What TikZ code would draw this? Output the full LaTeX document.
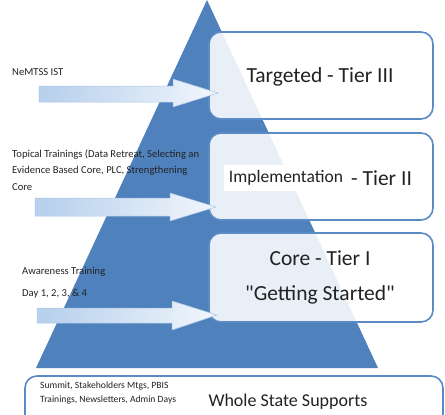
\documentclass[tikz,border=0pt]{standalone}
\usepackage{fontspec}
\setmainfont{Carlito}[Ligatures=TeXOff]
\definecolor{triblue}{HTML}{4F81BD}
\definecolor{boxedge}{HTML}{5B8BC7}
\definecolor{arrL}{HTML}{B9D1ED}
\definecolor{arrR}{HTML}{EEF4FB}
\definecolor{arrEdge}{HTML}{A9C5E6}
\definecolor{txt}{HTML}{222222}
\begin{document}
\begin{tikzpicture}[x=1pt,y=-1pt,
  tierbox/.style={draw=boxedge,line width=1.6pt,rounded corners=12pt,fill=white,fill opacity=0.88},
  blockarrow/.style={draw=arrEdge,line width=0.5pt,left color=arrL,right color=arrR,shading angle=80},
  big/.style={font=\fontsize{21.5}{24}\selectfont,text=txt,inner sep=0pt},
  small/.style={font=\fontsize{10.6}{12}\selectfont,text=txt,inner sep=0pt,anchor=west},
  tiny/.style={font=\fontsize{9.6}{11}\selectfont,text=txt,inner sep=0pt,anchor=west}]
\useasboundingbox (0,0) rectangle (445,415);
\clip (0,0) rectangle (445,415);
% pyramid
\fill[triblue] (36,368) -- (207,0) -- (378,368) -- cycle;
% tier boxes
\draw[tierbox] (209,32) rectangle (433,119);
\draw[tierbox] (209,133) rectangle (433,220);
\draw[tierbox] (209,233) rectangle (433,322);
\draw[tierbox,fill opacity=1] (25,376) rectangle (443,430);
% arrows
\draw[blockarrow] (39,86) -- (173,86) -- (173,79) -- (218,93) -- (173,107) -- (173,102) -- (39,102) -- cycle;
\draw[blockarrow] (35,198) -- (170,198) -- (170,193) -- (216,207) -- (170,221) -- (170,216) -- (35,216) -- cycle;
\draw[blockarrow] (37,308) -- (172,308) -- (172,301) -- (217,315) -- (172,330) -- (172,323) -- (37,323) -- cycle;
% tier texts
\node[big] (t3) at (320,77) {Targeted - Tier III};
\node[big,fill=white,inner xsep=5pt,inner ysep=6pt,font=\fontsize{17.5}{21}\selectfont] (t2a) at (286,178) {Implementation};
\node[big,anchor=west] (t2b) at (351,178) {- Tier II};
\node[big] (t1a) at (320,258) {Core - Tier I};
\node[big] (t1b) at (320,295) {"Getting Started"};
\node[font=\fontsize{18}{21}\selectfont,text=txt,inner sep=0pt] (ws) at (288,402) {Whole State Supports};
% left labels
\node[small] (l1) at (12,72) {NeMTSS IST};
\node[small] (l2a) at (12,155) {Topical Trainings (Data Retreat, Selecting an};
\node[small] (l2b) at (12,171) {Evidence Based Core, PLC, Strengthening};
\node[small] (l2c) at (12,187) {Core};
\node[small] (l3a) at (22,272) {Awareness Training};
\node[small] (l3b) at (22,294) {Day 1, 2, 3, \& 4};
\node[tiny] (b1) at (40,386) {Summit, Stakeholders Mtgs, PBIS};
\node[tiny] (b2) at (40,400) {Trainings, Newsletters, Admin Days};
\end{tikzpicture}
\end{document}
